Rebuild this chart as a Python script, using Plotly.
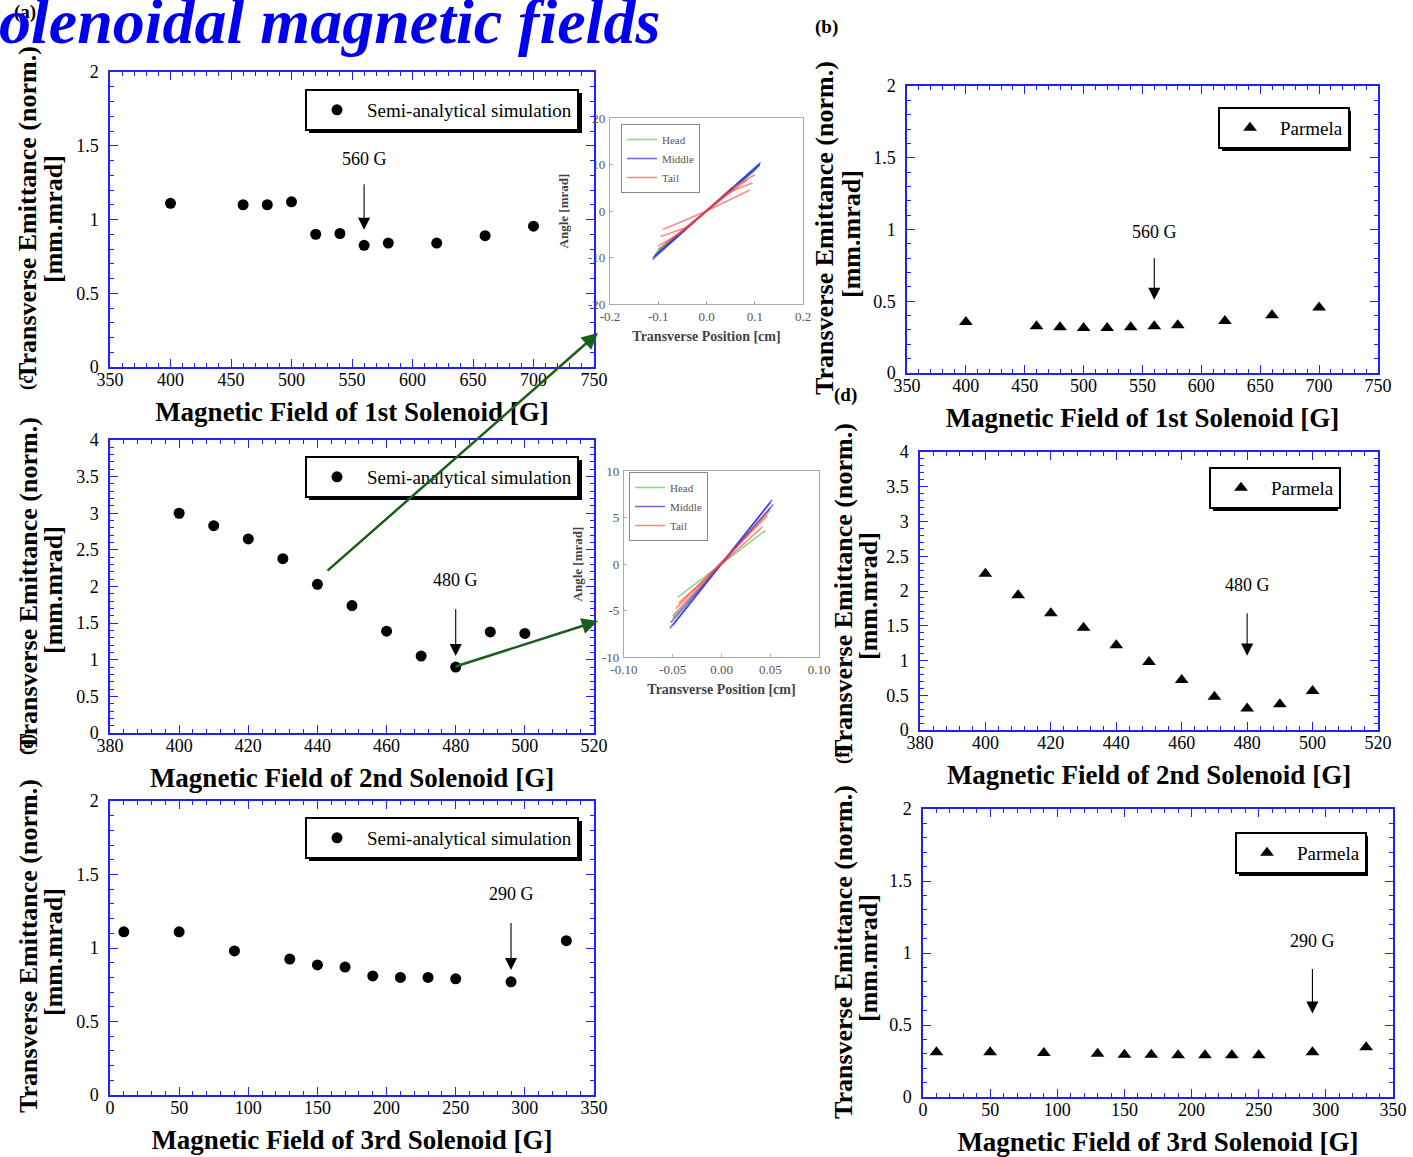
import plotly.graph_objects as go

W, H = 1413, 1157

# ---------------- data ----------------
sol1_field = [400, 460, 480, 500, 520, 540, 560, 580, 620, 660, 700]
sol1_semi = [1.11, 1.10, 1.10, 1.12, 0.90, 0.905, 0.825, 0.84, 0.84, 0.89, 0.955]
sol1_parmela = [0.356, 0.326, 0.318, 0.314, 0.314, 0.318, 0.326, 0.333, 0.363, 0.402, 0.456]

sol2_field = [400, 410, 420, 430, 440, 450, 460, 470, 480, 490, 500]
sol2_semi = [3.00, 2.83, 2.65, 2.38, 2.03, 1.74, 1.39, 1.05, 0.90, 1.38, 1.36]
sol2_parmela = [2.25, 1.94, 1.68, 1.47, 1.22, 0.98, 0.72, 0.48, 0.31, 0.37, 0.56]

sol3_field = [10, 50, 90, 130, 150, 170, 190, 210, 230, 250, 290, 330]
sol3_semi = [1.11, 1.11, 0.98, 0.925, 0.885, 0.87, 0.81, 0.80, 0.80, 0.79, 0.77, 1.05]
sol3_parmela = [0.31, 0.31, 0.305, 0.30, 0.293, 0.293, 0.29, 0.29, 0.29, 0.29, 0.31, 0.345]

opt1 = (560, "560 G")
opt2 = (480, "480 G")
opt3 = (290, "290 G")

# phase-space insets (None separates individual slices)
ins1_head_x = [-0.11, 0.11, None, -0.105, 0.105, None, -0.10, 0.10]
ins1_head_y = [-10.0, 10.0, None, -9.0, 9.2, None, -8.5, 8.7]
ins1_mid_x = [-0.112, 0.112, None, -0.11, 0.11, None, -0.108, 0.11]
ins1_mid_y = [-10.4, 10.4, None, -10.0, 10.1, None, -9.6, 9.8]
ins1_tail_x = [-0.10, -0.05, 0, 0.05, 0.10, None, -0.095, -0.04, 0, 0.04, 0.095,
               None, -0.09, 0, 0.09, None, -0.10, 0, 0.085]
ins1_tail_y = [-7.5, -4.5, 0, 4.8, 7.8, None, -5.5, -3.5, 0, 3.8, 6.0,
               None, -4.0, 0, 4.5, None, -8.2, 0, 6.8]

ins2_head_x = [-0.045, 0.045, None, -0.05, 0.05]
ins2_head_y = [-3.6, 3.6, None, -5.8, 6.0]
ins2_mid_x = [-0.053, 0.052, None, -0.05, 0.05, None, -0.052, 0.053]
ins2_mid_y = [-6.9, 6.9, None, -6.6, 6.6, None, -6.3, 6.4]
ins2_tail_x = [-0.047, 0.047, None, -0.05, 0.05, None, -0.044, 0.042]
ins2_tail_y = [-4.8, 5.2, None, -5.6, 5.8, None, -4.2, 4.0]

ins1_xticks = [-0.2, -0.1, 0.0, 0.1, 0.2]
ins1_xtext = ["-0.2", "-0.1", "0.0", "0.1", "0.2"]
ins1_yticks = [-20, -10, 0, 10, 20]
ins1_ytext = ["-20", "-10", "0", "10", "20"]
ins2_xticks = [-0.10, -0.05, 0.0, 0.05, 0.10]
ins2_xtext = ["-0.10", "-0.05", "0.00", "0.05", "0.10"]
ins2_yticks = [-10, -5, 0, 5, 10]
ins2_ytext = ["-10", "-5", "0", "5", "10"]

# ---------------- helpers ----------------
def px(x):
    return x / W

def py(y):
    return 1 - y / H

SERIF = "Liberation Serif"
BLUE = "#2020ff"

fig = go.Figure()

panels = {
    1: (110, 594, 72, 367),
    2: (907, 1378, 86, 373),
    3: (110, 594, 440, 733),
    4: (920, 1378, 452, 730),
    5: (110, 594, 801, 1095),
    6: (923, 1393, 809, 1097),
    7: (610, 803, 118, 304),
    8: (624, 819, 471, 657),
}

def ax_name(i, kind):
    return kind + ("" if i == 1 else str(i))

def main_axes(i, xr, xd, xm, yr, yd, ym, xtitle):
    l, r, t, b = panels[i]
    common = dict(showline=True, linecolor=BLUE, linewidth=1.5, mirror="allticks",
                  ticks="inside", ticklen=8, tickwidth=1.2, tickcolor=BLUE,
                  showgrid=False, zeroline=False, automargin=False,
                  tickfont=dict(family=SERIF, size=18, color="black"))
    xa = dict(common, domain=[px(l), px(r)], range=xr, dtick=xd, tick0=0,
              anchor=ax_name(i, "y"), ticklabelstandoff=-4,
              minor=dict(ticks="inside", dtick=xm, ticklen=4, tickcolor=BLUE, tickwidth=1),
              title=dict(text="<b>" + xtitle + "</b>", standoff=13,
                         font=dict(family=SERIF, size=27, color="black")))
    ya = dict(common, domain=[py(b), py(t)], range=yr, dtick=yd, tick0=0,
              anchor=ax_name(i, "x"), ticklabelstandoff=6,
              minor=dict(ticks="inside", dtick=ym, ticklen=4, tickcolor=BLUE, tickwidth=1))
    fig.layout[ax_name(i, "xaxis")] = xa
    fig.layout[ax_name(i, "yaxis")] = ya

main_axes(1, [350, 750], 50, 10, [0, 2], 0.5, 0.1, "Magnetic Field of 1st Solenoid [G]")
main_axes(2, [350, 750], 50, 10, [0, 2], 0.5, 0.1, "Magnetic Field of 1st Solenoid [G]")
main_axes(3, [380, 520], 20, 4, [0, 4], 0.5, 0.1, "Magnetic Field of 2nd Solenoid [G]")
main_axes(4, [380, 520], 20, 4, [0, 4], 0.5, 0.1, "Magnetic Field of 2nd Solenoid [G]")
main_axes(5, [0, 350], 50, 10, [0, 2], 0.5, 0.1, "Magnetic Field of 3rd Solenoid [G]")
main_axes(6, [0, 350], 50, 10, [0, 2], 0.5, 0.1, "Magnetic Field of 3rd Solenoid [G]")

def inset_axes(i, xr, xt, xtt, yr, yt, ytt):
    l, r, t, b = panels[i]
    common = dict(showline=True, linecolor="#aaaaaa", linewidth=1.2, mirror=True,
                  ticks="inside", ticklen=3, tickcolor="#aaaaaa",
                  showgrid=False, zeroline=False, automargin=False,
                  tickfont=dict(family=SERIF, size=13, color="#555555"))
    fig.layout[ax_name(i, "xaxis")] = dict(
        common, domain=[px(l), px(r)], range=xr, tickvals=xt, ticktext=xtt,
        anchor=ax_name(i, "y"),
        title=dict(text="<b>Transverse Position [cm]</b>", standoff=8,
                   font=dict(family=SERIF, size=14, color="#444444")))
    fig.layout[ax_name(i, "yaxis")] = dict(
        common, domain=[py(b), py(t)], range=yr, tickvals=yt, ticktext=ytt,
        anchor=ax_name(i, "x"), ticklabelstandoff=1,
        title=dict(text="<b>Angle [mrad]</b>", standoff=16,
                   font=dict(family=SERIF, size=13, color="#444444")))

inset_axes(7, [-0.2, 0.2], ins1_xticks, ins1_xtext, [-20, 20], ins1_yticks, ins1_ytext)
inset_axes(8, [-0.1, 0.1], ins2_xticks, ins2_xtext, [-10, 10], ins2_yticks, ins2_ytext)

# ---------------- traces ----------------
def scatter(i, x, y, name, symbol, leg):
    fig.add_trace(go.Scatter(
        x=x, y=y, mode="markers", name=name, legend=leg,
        marker=dict(symbol=symbol, size=11 if symbol == "circle" else 12, color="black"),
        xaxis=ax_name(i, "x"), yaxis=ax_name(i, "y")))

scatter(1, sol1_field, sol1_semi, "Semi-analytical simulation", "circle", "legend")
scatter(2, sol1_field, sol1_parmela, "Parmela", "triangle-up", "legend2")
scatter(3, sol2_field, sol2_semi, "Semi-analytical simulation", "circle", "legend3")
scatter(4, sol2_field, sol2_parmela, "Parmela", "triangle-up", "legend4")
scatter(5, sol3_field, sol3_semi, "Semi-analytical simulation", "circle", "legend5")
scatter(6, sol3_field, sol3_parmela, "Parmela", "triangle-up", "legend6")

HEAD_C = "rgba(70,200,70,0.65)"
MID_C = "rgba(50,50,220,0.7)"
TAIL_C = "rgba(255,60,60,0.6)"

def inset_lines(i, hx, hy, mx, my, tx, ty, leg):
    for x, y, nm, c in [(hx, hy, "Head", HEAD_C), (mx, my, "Middle", MID_C), (tx, ty, "Tail", TAIL_C)]:
        fig.add_trace(go.Scatter(x=x, y=y, mode="lines", name=nm, legend=leg,
                                 line=dict(color=c, width=1.6),
                                 xaxis=ax_name(i, "x"), yaxis=ax_name(i, "y")))

inset_lines(7, ins1_head_x, ins1_head_y, ins1_mid_x, ins1_mid_y, ins1_tail_x, ins1_tail_y, "legend7")
inset_lines(8, ins2_head_x, ins2_head_y, ins2_mid_x, ins2_mid_y, ins2_tail_x, ins2_tail_y, "legend8")

# ---------------- legends ----------------
LEG_H = 40
main_leg_boxes = {
    "legend": (305, 578, 89),
    "legend2": (1218, 1347, 107),
    "legend3": (305, 578, 456),
    "legend4": (1209, 1334, 467),
    "legend5": (305, 578, 817),
    "legend6": (1235, 1364, 832),
}
shapes = []
for key, (l, r, t) in main_leg_boxes.items():
    fig.layout[key] = dict(x=px(l), y=py(t), xanchor="left", yanchor="top",
                           bgcolor="white", bordercolor="black", borderwidth=2,
                           itemwidth=50,
                           font=dict(family=SERIF, size=19, color="black"))
    shapes.append(dict(type="rect", xref="paper", yref="paper",
                       x0=px(l + 4), x1=px(r + 4), y0=py(t + LEG_H + 4), y1=py(t + 4),
                       fillcolor="black", line=dict(width=0), layer="above"))

for key, (l, t) in {"legend7": (621, 124), "legend8": (629, 472)}.items():
    fig.layout[key] = dict(x=px(l), y=py(t), xanchor="left", yanchor="top",
                           bgcolor="white", bordercolor="#888888", borderwidth=1,
                           itemwidth=30, tracegroupgap=0,
                           font=dict(family=SERIF, size=11, color="#555555"))

# ---------------- annotations ----------------
ann = []

def opt_arrow(i, field, label, ty, tail, head):
    xr, yr = ax_name(i, "x"), ax_name(i, "y")
    ann.append(dict(x=field, y=ty, xref=xr, yref=yr, text=label, showarrow=False,
                    xanchor="center", yanchor="middle",
                    font=dict(family=SERIF, size=18, color="black")))
    ann.append(dict(x=field, y=head, ax=field, ay=tail, xref=xr, yref=yr, axref=xr, ayref=yr,
                    text="", showarrow=True, arrowhead=2, arrowsize=2.2, arrowwidth=1.1,
                    arrowcolor="black"))

opt_arrow(1, opt1[0], opt1[1], 1.41, 1.25, 0.93)
opt_arrow(2, opt1[0], opt1[1], 0.98, 0.81, 0.51)
opt_arrow(3, opt2[0], opt2[1], 2.09, 1.71, 1.05)
opt_arrow(4, opt2[0], opt2[1], 2.09, 1.70, 1.07)
opt_arrow(5, opt3[0], opt3[1], 1.37, 1.18, 0.85)
opt_arrow(6, opt3[0], opt3[1], 1.08, 0.90, 0.58)

# y-axis titles (two lines, tight spacing)
ytitle_pos = {1: (28, 53, 213), 2: (825, 851, 228), 3: (28, 53, 584),
              4: (843, 868, 590), 5: (28, 53, 946), 6: (843, 868, 952)}
for i, (x1, x2, yc) in ytitle_pos.items():
    ann.append(dict(x=px(x1), y=py(yc), xref="paper", yref="paper", textangle=-90,
                    xanchor="center", yanchor="middle",
                    text="<b>Transverse Emittance (norm.)</b>", showarrow=False,
                    font=dict(family=SERIF, size=26, color="black")))
    ann.append(dict(x=px(x2), y=py(yc + 6), xref="paper", yref="paper", textangle=-90,
                    xanchor="center", yanchor="middle",
                    text="<b>[mm.mrad]</b>", showarrow=False,
                    font=dict(family=SERIF, size=26, color="black")))

# panel labels
for txt, x, y, ang in [("(a)", 25, 12, 0), ("(b)", 826, 27, 0), ("(d)", 845, 395, 0),
                       ("(c)", 27, 380, -90), ("(e)", 27, 745, -90), ("(f)", 843, 755, -90)]:
    ann.append(dict(x=px(x), y=py(y), xref="paper", yref="paper", text="<b>" + txt + "</b>",
                    xanchor="center", yanchor="middle",
                    textangle=ang, showarrow=False,
                    font=dict(family=SERIF, size=19, color="black")))

# green pointer arrows to the phase-space insets
GREEN = "#1b5e1b"
for (tx, ty), (hx, hy) in [((326, 572), (598, 333)), ((454, 667), (598, 621))]:
    ann.append(dict(x=px(hx), y=py(hy), xref="paper", yref="paper",
                    ax=tx - hx, ay=ty - hy, axref="pixel", ayref="pixel",
                    text="", showarrow=True, arrowhead=2, arrowsize=1.3, arrowwidth=2.5,
                    arrowcolor=GREEN))

# headline fragment
ann.append(dict(x=px(-3), y=py(-16), xref="paper", yref="paper", xanchor="left", yanchor="top",
                text="<b><i>olenoidal magnetic fields</i></b>", showarrow=False,
                font=dict(family=SERIF, size=64, color="#0000ee")))

fig.update_layout(width=W, height=H,
                  margin=dict(l=0, r=0, t=0, b=0, pad=0, autoexpand=False),
                  paper_bgcolor="white", plot_bgcolor="white",
                  annotations=ann, shapes=shapes, showlegend=True)

fig.write_html("out.html", config={"displayModeBar": False},
               post_script="document.body.style.margin='0';")
